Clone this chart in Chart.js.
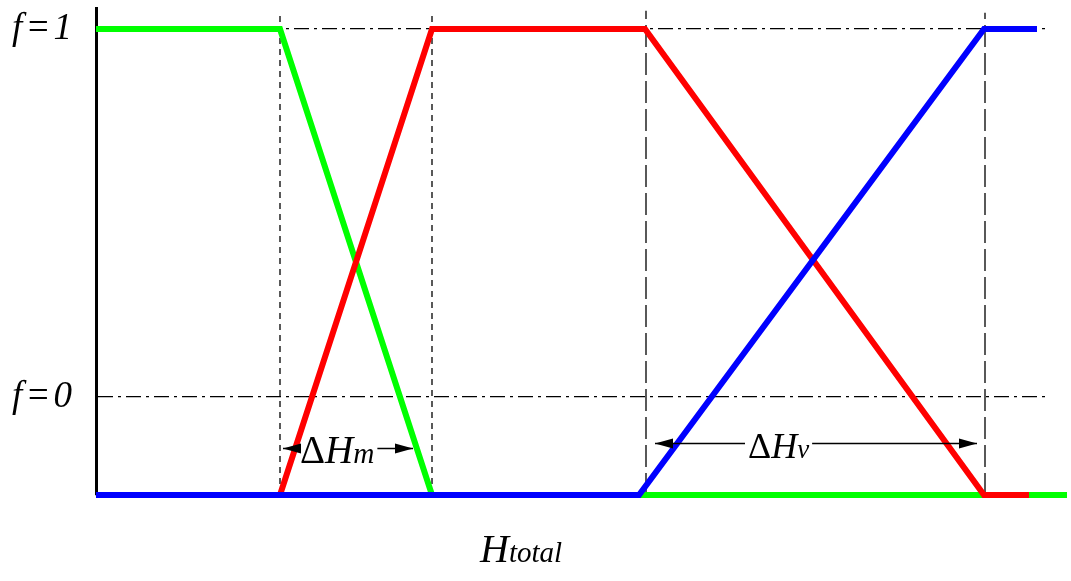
<!DOCTYPE html>
<html>
<head>
<meta charset="utf-8">
<script src="https://cdn.jsdelivr.net/npm/chart.js@4.4.1/dist/chart.umd.min.js"></script>
<style>
  html, body { margin: 0; background: #fff; }
</style>
</head>
<body>
<canvas id="chart" width="1071" height="581"></canvas>
<script>
// curves (x = H_total, arbitrary units; y = fraction f)
const greenH = [0, 184, 336, 971];
const greenF = [1, 1, 0, 0];
const redH = [0, 184, 336, 549, 888, 933];
const redF = [0, 0, 1, 1, 0, 0];
const blueH = [0, 543, 888, 941];
const blueF = [0, 0, 1, 1];

// guide lines
const guideH = [184, 336, 550, 889];
const guideTop = [1.03, 1.03, 1.039, 1.035];
const fTicks = [0.21, 1];
const fLabels = ['f\u200A=\u200A0', 'f\u200A=\u200A1'];

// span annotations
const spanNames = ['m', 'v'];
const spanFrom = [187, 559];
const spanTo = [317, 881];
const spanAt = [0.10, 0.112];
const spanText = [204, 652];

const SERIF = '"Liberation Serif", "Times New Roman", serif';

const pts = (xs, ys) => xs.map((v, i) => ({x: v, y: ys[i]}));
const curve = (xs, ys, color, order) => ({
  data: pts(xs, ys), borderColor: color, borderWidth: 6, pointRadius: 0,
  tension: 0, clip: false, order: order
});

const datasets = [
  curve(blueH, blueF, '#0000ff', 1),
  curve(redH, redF, '#ff0000', 2),
  curve(greenH, greenF, '#00ff00', 3)
];
guideH.forEach((h, i) => {
  datasets.push({
    data: pts([h, h], [0, guideTop[i]]), borderColor: '#000', borderWidth: 1.3,
    borderDash: i < 2 ? [6, 5] : [22, 6], pointRadius: 0, clip: false, order: 10
  });
});

function drawPieces(ctx, pieces, x, y) {
  pieces.forEach(p => {
    ctx.font = p[1] + ' ' + p[2] + 'px ' + SERIF;
    ctx.fillText(p[0], x, y);
    x += ctx.measureText(p[0]).width;
  });
  return x;
}
function piecesWidth(ctx, pieces) {
  let w = 0;
  pieces.forEach(p => { ctx.font = p[1] + ' ' + p[2] + 'px ' + SERIF; w += ctx.measureText(p[0]).width; });
  return w;
}
function arrowHead(ctx, x, y, dir) {
  ctx.beginPath();
  ctx.moveTo(x, y);
  ctx.lineTo(x - dir * 18, y - 5);
  ctx.lineTo(x - dir * 18, y + 5);
  ctx.closePath();
  ctx.fill();
}

const annotate = {
  id: 'annotate',
  afterDatasetsDraw(chart) {
    const {ctx, chartArea} = chart;
    const xs = chart.scales.x, ys = chart.scales.y;
    ctx.save();
    ctx.fillStyle = '#000';
    ctx.strokeStyle = '#000';
    ctx.lineWidth = 1.3;
    ctx.textBaseline = 'alphabetic';
    spanNames.forEach((name, i) => {
      const x0 = xs.getPixelForValue(spanFrom[i]);
      const x1 = xs.getPixelForValue(spanTo[i]);
      const yy = Math.round(ys.getPixelForValue(spanAt[i])) + 0.5;
      const size = i === 0 ? 39 : 36;
      const pieces = [['\u0394', 'normal', size], ['H', 'italic', size], [name, 'italic', size * 0.75]];
      const tx = xs.getPixelForValue(spanText[i]);
      const w = piecesWidth(ctx, pieces);
      ctx.beginPath();
      ctx.moveTo(x0, yy); ctx.lineTo(tx - 3, yy);
      ctx.moveTo(tx + w + 3, yy); ctx.lineTo(x1, yy);
      ctx.stroke();
      arrowHead(ctx, x0, yy, -1);
      arrowHead(ctx, x1, yy, 1);
      drawPieces(ctx, pieces, tx, yy + 14);
    });
    // axis title
    drawPieces(ctx, [['H', 'italic', 40], ['total', 'italic', 29]], xs.getPixelForValue(384), chartArea.bottom + 67);
    ctx.restore();
  }
};

new Chart(document.getElementById('chart'), {
  type: 'line',
  data: {datasets: datasets},
  plugins: [annotate],
  options: {
    responsive: false,
    animation: false,
    devicePixelRatio: 1,
    layout: {padding: {left: 0, top: 8, right: 26, bottom: 0}},
    plugins: {legend: {display: false}, tooltip: {enabled: false}},
    scales: {
      x: {
        type: 'linear', min: 0, max: 949,
        ticks: {display: false},
        grid: {display: false, drawTicks: false},
        border: {display: true, color: '#000', width: 1},
        afterFit(s) { s.height = 86; s.paddingLeft = 0; s.paddingRight = 0; }
      },
      y: {
        type: 'linear', min: 0, max: 1.045,
        afterBuildTicks(s) { s.ticks = fTicks.map(v => ({value: v})); },
        ticks: {
          padding: 24, color: '#000',
          font: {family: SERIF, size: 37, style: 'italic'},
          callback: (v, i) => fLabels[i]
        },
        grid: {color: '#000', lineWidth: 1.3, drawTicks: false},
        border: {display: true, color: '#000', width: 3, dash: [15, 5, 3, 5]},
        afterFit(s) { s.width = 96; s.paddingTop = 0; s.paddingBottom = 0; }
      }
    }
  }
});
</script>
</body>
</html>
